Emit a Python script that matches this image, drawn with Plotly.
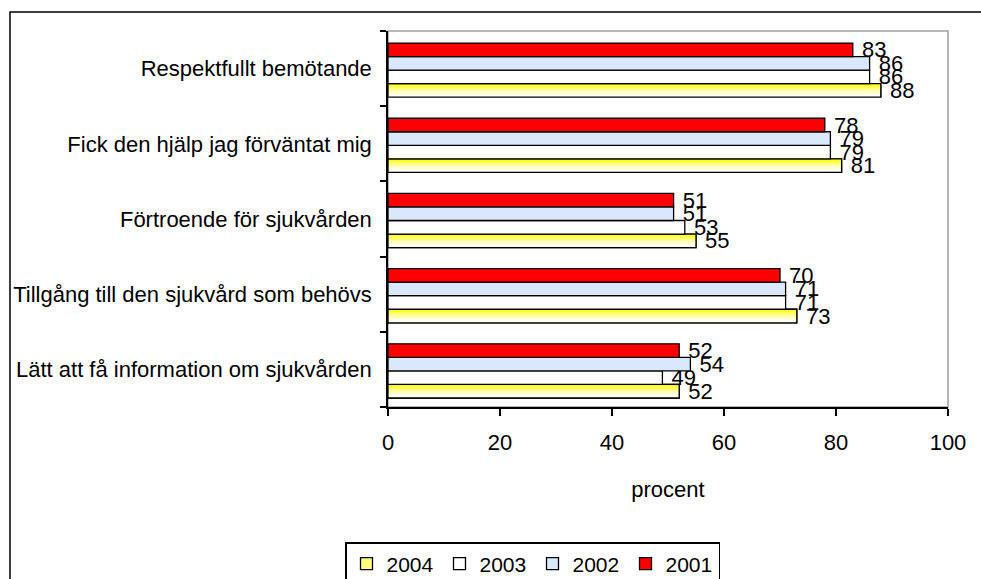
import plotly.graph_objects as go

# Survey statements, listed from the top of the chart downwards
categories = [
    "Respektfullt bemötande",
    "Fick den hjälp jag förväntat mig",
    "Förtroende för sjukvården",
    "Tillgång till den sjukvård som behövs",
    "Lätt att få information om sjukvården",
]
years = ["2004", "2003", "2002", "2001"]
values_2004 = [88, 81, 55, 73, 52]
values_2003 = [86, 79, 53, 71, 49]
values_2002 = [86, 79, 51, 71, 54]
values_2001 = [83, 78, 51, 70, 52]
x_ticks = [0, 20, 40, 60, 80, 100]
x_title = "procent"

FONT = "Arial, Liberation Sans, sans-serif"
FS = 22
BAR_W = 0.18
# bar offsets inside each category slot (2004 lowest, 2001 highest)
offsets = {"2004": -0.38, "2003": -0.20, "2002": -0.02, "2001": 0.16}
colors = {"2003": "#FFFFFF", "2002": "#D9E8FB", "2001": "#FF0000"}
series = {"2004": values_2004, "2003": values_2003,
          "2002": values_2002, "2001": values_2001}

fig = go.Figure()
line = dict(color="black", width=1.3)


def bar(name, vals, offset, width, color, line_style, showlegend, text=False):
    kw = {}
    if text:
        kw = dict(
            text=vals, texttemplate=" %{text}", textposition="outside",
            textfont=dict(family=FONT, size=FS, color="black"),
            constraintext="none", cliponaxis=False,
        )
    return go.Bar(
        y=categories, x=vals, orientation="h", name=name,
        offset=offset, width=width,
        marker=dict(color=color, line=line_style),
        showlegend=showlegend, hoverinfo="skip", **kw,
    )


# 2004: legend entry, then a yellow-to-white gradient made of thin slices,
# then the outline with value labels on top
fig.add_trace(bar("2004", values_2004, offsets["2004"], BAR_W, "#FFFF80", line, True))
n_slices = 10
for i in range(n_slices):
    t = i / (n_slices - 1)  # 0 at the bottom edge, 1 at the top edge
    t = t ** 1.6
    b = int(round(255 - t * (255 - 20)))
    col = f"rgb(255,255,{b})"
    w = BAR_W / n_slices
    fig.add_trace(bar("2004", values_2004, offsets["2004"] + i * w, w * 1.05,
                      col, dict(width=0), False))
fig.add_trace(bar("2004", values_2004, offsets["2004"], BAR_W,
                  "rgba(0,0,0,0)", line, False, text=True))

for yr in ["2003", "2002", "2001"]:
    fig.add_trace(bar(yr, series[yr], offsets[yr], BAR_W, colors[yr], line,
                      True, text=True))

W, H = 981, 579
fig.update_layout(
    width=W, height=H,
    margin=dict(l=388, r=33, t=31, b=172),
    barmode="overlay",
    plot_bgcolor="white", paper_bgcolor="white",
    font=dict(family=FONT, size=FS, color="black"),
    xaxis=dict(
        range=[0, 100], tickvals=x_ticks, ticks="outside", ticklen=7,
        tickwidth=1.5, tickcolor="black", showline=True, linecolor="black",
        linewidth=1.5, showgrid=False, zeroline=False,
        ticklabelstandoff=8,
        title=dict(text=x_title, standoff=27, font=dict(size=FS)),
        tickfont=dict(size=FS),
    ),
    yaxis=dict(
        type="category", categoryorder="array",
        categoryarray=list(reversed(categories)),
        ticks="outside", tickson="boundaries", ticklen=6, tickwidth=1.5,
        tickcolor="black", showline=True, linecolor="black", linewidth=1.5,
        showgrid=False, ticklabelstandoff=10, tickfont=dict(size=FS),
    ),
    legend=dict(
        orientation="h", xref="container", yref="container",
        x=345 / W, xanchor="left", y=(H - 542) / H, yanchor="top",
        bordercolor="black", borderwidth=1.5, traceorder="normal",
        font=dict(size=21), itemwidth=30,
        entrywidth=48, entrywidthmode="pixels",
    ),
    shapes=[
        # plot-area frame (grey top and right edges)
        dict(type="rect", xref="paper", yref="paper", x0=0, x1=1, y0=0, y1=1,
             line=dict(color="#A0A0A0", width=1.5), layer="below"),
        # outer chart frame
        dict(type="rect", xref="paper", yref="paper", x0=-0.675, x1=1.2,
             y0=-0.6, y1=1.0505, line=dict(color="black", width=1.5),
             layer="below"),
    ],
)

fig.write_html("out.html")
